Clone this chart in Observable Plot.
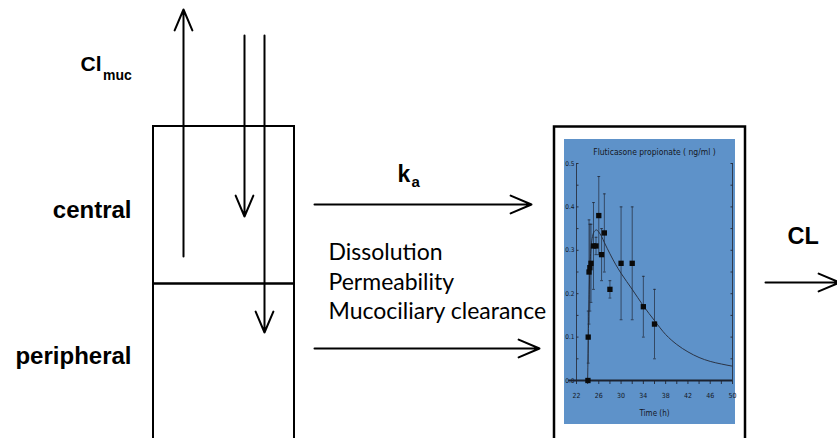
<!DOCTYPE html>
<html>
<head>
<meta charset="utf-8">
<script src="https://cdn.jsdelivr.net/npm/d3@7"></script>
<script src="https://cdn.jsdelivr.net/npm/@observablehq/plot@0.6"></script>
<style>
  html, body { margin: 0; padding: 0; background: #fff; overflow: hidden; }
  #wrap { position: relative; width: 837px; height: 438px; }
  #wrap > svg { position: absolute; }
</style>
</head>
<body>
<div id="wrap"></div>
<script>
// ---------- Inset chart data: Fluticasone propionate (ng/ml) vs Time (h) ----------
const obsTime = [24.05, 24.1, 24.25, 24.4, 24.6, 25.05, 25.5, 26.0, 26.5, 27.0, 28.0, 30.0, 32.0, 34.0, 36.0];
const obsConc = [0.00, 0.10, 0.25, 0.26, 0.27, 0.31, 0.31, 0.38, 0.29, 0.34, 0.21, 0.27, 0.27, 0.17, 0.13];
const obsLow  = [0.00, 0.04, 0.13, 0.16, 0.18, 0.21, 0.29, 0.29, 0.23, 0.25, 0.19, 0.14, 0.14, 0.10, 0.05];
const obsHigh = [0.00, 0.16, 0.37, 0.36, 0.36, 0.41, 0.33, 0.47, 0.35, 0.43, 0.23, 0.40, 0.40, 0.24, 0.21];

const modelTime = [24.0, 24.15, 24.3, 24.5, 24.75, 25.0, 25.3, 25.6, 26.0, 26.5, 27.0, 28.0, 29.0, 30.0, 32.0, 34.0, 36.0, 38.0, 40.0, 42.0, 44.0, 46.0, 48.0, 50.0];
const modelConc = [0.000, 0.120, 0.220, 0.285, 0.322, 0.338, 0.345, 0.347, 0.342, 0.332, 0.318, 0.292, 0.268, 0.247, 0.210, 0.172, 0.138, 0.106, 0.083, 0.066, 0.053, 0.044, 0.038, 0.033];

const xTickLabels = [22, 26, 30, 34, 38, 42, 46, 50];
const xMinorTicks = [22, 24, 26, 28, 30, 32, 34, 36, 38, 40, 42, 44, 46, 48, 50];
const yTickLabels = [0, 0.1, 0.2, 0.3, 0.4, 0.5];
const yMinorTicks = [0, 0.05, 0.1, 0.15, 0.2, 0.25, 0.3, 0.35, 0.4, 0.45, 0.5];
const insetTitle = "Fluticasone propionate ( ng/ml )";
const insetXLabel = "Time (h)";

// ---------- Diagram data (diagram units = page pixels) ----------
const compartment = [{x1: 153, x2: 294, y1: 126, y2: 470}];
const compartmentDivider = [{x1: 153, x2: 294, y1: 283, y2: 283}];
const plasmaFrame = [{x1: 554, x2: 745, y1: 126.5, y2: 470}];
const fluxArrows = [
  {name: "Cl_muc out", x1: 183, y1: 256, x2: 183, y2: 9},
  {name: "deposition central", x1: 244, y1: 35, x2: 244, y2: 216},
  {name: "deposition peripheral", x1: 264, y1: 35, x2: 264, y2: 332},
  {name: "ka central", x1: 314, y1: 204, x2: 531, y2: 204},
  {name: "ka peripheral", x1: 314, y1: 348, x2: 539, y2: 348},
  {name: "CL", x1: 765, y1: 282, x2: 839, y2: 282}
];
const compartmentLabels = [
  {text: "central", x: 131, y: 209.5},
  {text: "peripheral", x: 131, y: 355.5}
];
const boldLabels = [
  {text: "Cl", x: 80, y: 64, size: 21},
  {text: "muc", x: 102.5, y: 75.5, size: 14},
  {text: "k", x: 397, y: 174.5, size: 23},
  {text: "a", x: 411, y: 182, size: 15},
  {text: "CL", x: 787, y: 236, size: 23.5}
];
const processLabels = [
  {text: "Dissolution", x: 328, y: 252},
  {text: "Permeability", x: 328, y: 282},
  {text: "Mucociliary clearance", x: 328, y: 311}
];

const W = 837, H = 438;
const BOLD = "'Liberation Sans', Arial, Helvetica, sans-serif";

const diagram = Plot.plot({
  width: W, height: H,
  margin: 0,
  style: {background: "transparent", overflow: "hidden"},
  x: {domain: [0, W], range: [0, W], axis: null},
  y: {domain: [0, H], range: [0, H], axis: null},
  marks: [
    Plot.rect(compartment, {x1: "x1", x2: "x2", y1: "y1", y2: "y2", fill: "white", stroke: "black", strokeWidth: 2}),
    Plot.link(compartmentDivider, {x1: "x1", y1: "y1", x2: "x2", y2: "y2", stroke: "black", strokeWidth: 2.5}),
    Plot.rect(plasmaFrame, {x1: "x1", x2: "x2", y1: "y1", y2: "y2", fill: "white", stroke: "black", strokeWidth: 2.5}),
    Plot.arrow(fluxArrows, {x1: "x1", y1: "y1", x2: "x2", y2: "y2", stroke: "black", strokeWidth: 2, headLength: 17, headAngle: 46}),
    Plot.text(compartmentLabels, {x: "x", y: "y", text: "text", textAnchor: "end", fontSize: 24, fontWeight: "bold", fontFamily: BOLD, fill: "black"}),
    Plot.text(boldLabels, {x: "x", y: "y", text: "text", textAnchor: "start", fontSize: "size", fontWeight: "bold", fontFamily: BOLD, fill: "black"}),
    Plot.text(processLabels, {x: "x", y: "y", text: "text", textAnchor: "start", fontSize: 23, fontFamily: "Lato, 'Open Sans', sans-serif", fill: "black"})
  ]
});
diagram.style.left = "0px";
diagram.style.top = "0px";

// ---------- Inset chart ----------
const obs = obsTime.map((t, i) => ({t, c: obsConc[i], lo: obsLow[i], hi: obsHigh[i]}));
const model = modelTime.map((t, i) => ({t, c: modelConc[i]}));
const caps = obs.filter(d => d.hi > d.lo).flatMap(d => [{t: d.t, c: d.lo}, {t: d.t, c: d.hi}]);
const capSymbol = {draw(ctx, size) { ctx.moveTo(-1.4, 0); ctx.lineTo(1.4, 0); }};
const INK = "#15181f";
const NARROW = "'Liberation Sans Narrow', 'DejaVu Sans Condensed', 'Arial Narrow', sans-serif";

const inset = Plot.plot({
  width: 171, height: 285,
  marginLeft: 12, marginRight: 3, marginTop: 24, marginBottom: 44,
  style: {background: "#5e92c9", color: INK, fontFamily: NARROW, overflow: "visible"},
  x: {domain: [22, 50]},
  y: {domain: [0, 0.5]},
  marks: [
    Plot.ruleX([22, 50], {y1: 0, y2: 0.5, stroke: "#2a3140", strokeWidth: 0.9}),
    Plot.axisY({anchor: "left", ticks: yTickLabels, tickSize: 0, tickPadding: 2, tickFormat: d3.format(".1f"), fontSize: 6.5, label: null, fill: INK}),
    Plot.axisY({anchor: "left", ticks: yMinorTicks, tickSize: 2.5, dx: 2.5, text: null, label: null, stroke: "#2a3140"}),
    Plot.axisY({anchor: "right", ticks: yMinorTicks, tickSize: 2.5, dx: -2.5, text: null, label: null, stroke: "#2a3140"}),
    Plot.axisX({anchor: "bottom", ticks: xMinorTicks, tickSize: 4, text: null, label: null, stroke: "#2a3140"}),
    Plot.axisX({anchor: "bottom", ticks: xTickLabels, tickSize: 0, tickPadding: 13, fontSize: 7, label: null, fill: INK}),
    Plot.ruleY([0], {x1: 20.6, x2: 50, stroke: "#1b2230", strokeWidth: 2}),
    Plot.line(model, {x: "t", y: "c", curve: "monotone-x", stroke: "#2b3445", strokeWidth: 1}),
    Plot.ruleX(obs, {x: "t", y1: "lo", y2: "hi", stroke: "#222a38", strokeWidth: 0.7}),
    Plot.dot(caps, {x: "t", y: "c", symbol: capSymbol, r: 1.4, stroke: "#222a38", strokeWidth: 0.8, fill: "none"}),
    Plot.dot(obs, {x: "t", y: "c", symbol: "square", r: 3, fill: "#0a0a0a", stroke: "none"}),
    Plot.text([insetTitle], {frameAnchor: "top", dy: -15, fontSize: 8.5, fill: INK}),
    Plot.text([insetXLabel], {frameAnchor: "bottom", dy: 35, fontSize: 8, fill: INK})
  ]
});
inset.style.left = "564px";
inset.style.top = "139px";

const wrap = document.getElementById("wrap");
wrap.appendChild(diagram);
wrap.appendChild(inset);
</script>
</body>
</html>
